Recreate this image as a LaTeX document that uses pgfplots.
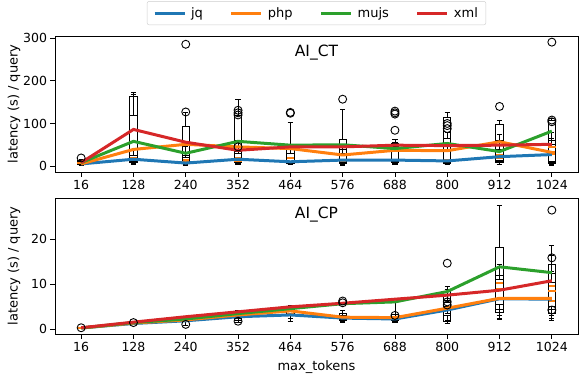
\documentclass[border=0pt]{standalone}
\usepackage{fontspec}
\setmainfont{DejaVu Sans}
\usepackage{pgfplots}
\pgfplotsset{compat=1.18}
\usepgfplotslibrary{statistics}
\definecolor{cjq}{HTML}{1F77B4}
\definecolor{cphp}{HTML}{FF7F0E}
\definecolor{cmujs}{HTML}{2CA02C}
\definecolor{cxml}{HTML}{D62728}
% one box: position, lower whisker, lower quartile, median, upper quartile, upper whisker, outliers
\newcommand{\bx}[7]{\addplot[forget plot, black, line width=0.9pt, mark=o, mark size=4pt,
  boxplot prepared={draw position=#1, lower whisker=#2, lower quartile=#3, median=#4,
  upper quartile=#5, upper whisker=#6}] coordinates {#7};}
\pgfplotsset{
  common/.style={
    scale only axis, width=523pt, height=136pt,
    xmin=-0.5, xmax=9.5,
    xtick={0,1,2,3,4,5,6,7,8,9},
    xticklabels={16,128,240,352,464,576,688,800,912,1024},
    tick align=outside, xtick pos=bottom, ytick pos=left,
    major tick length=4.5pt,
    tick style={black, line width=0.8pt},
    axis line style={black, line width=0.8pt},
    /pgf/number format/assume math mode=true,
    tick label style={font=\fontsize{12.5}{14}\selectfont},
    title style={font=\fontsize{15.5}{18}\selectfont, at={(axis description cs:0.5,1)}, anchor=north, yshift=-11pt},
    every axis y label/.style={at={(axis description cs:0,0.5)}, xshift=-41pt, rotate=90, anchor=center, font=\fontsize{13}{15}\selectfont},
    ylabel={latency (s) / query},
    boxplot/draw direction=y,
    boxplot/box extend=0.14, boxplot/whisker extend=0.1,
    boxplot/every median/.style={draw=cphp, line width=2pt},
  },
  ln/.style={line width=3pt},
}
\begin{document}
\begin{tikzpicture}
\useasboundingbox (0,0) rectangle (581pt,-376pt);
% ---------------- AI_CT ----------------
\begin{axis}[common, at={(55pt,-172pt)}, anchor=south west,
  ymin=-14, ymax=305.4, ytick={0,100,200,300},
  title={AI\_CT},
  legend columns=4,
  legend image code/.code={\draw[#1, line width=3pt] (0pt,0pt) -- (30pt,0pt);},
  legend style={at={(axis description cs:0.5,1)}, anchor=south, yshift=11pt,
    draw=black!20, rounded corners=2pt, font=\fontsize{13}{15}\selectfont,
    inner xsep=6pt, inner ysep=4pt,
    /tikz/every odd column/.append style={column sep=3pt},
    /tikz/every even column/.append style={column sep=25pt}},
]
\bx{0}{2}{4}{6}{10}{14}{(0,19)}
\bx{0}{3}{5}{8}{12}{15}{}
\bx{1}{3}{8}{12}{164}{174}{}
\bx{1}{5}{12}{18}{119}{168}{}
\bx{1}{4}{10}{16}{25}{40}{}
\bx{2}{2}{8}{15}{94}{127}{(2,286)}
\bx{2}{3}{6}{12}{25}{45}{(2,127)}
\bx{2}{2}{5}{10}{20}{30}{}
\bx{3}{5}{10}{15}{118}{157}{}
\bx{3}{5}{8}{18}{35}{60}{(3,120) (3,125) (3,131)}
\bx{3}{4}{8}{12}{30}{40}{(3,45)}
\bx{4}{3}{8}{20}{40}{103}{(4,124)}
\bx{4}{3}{6}{10}{30}{45}{(4,126)}
\bx{5}{3}{10}{25}{62}{133}{(5,157)}
\bx{5}{2}{5}{12}{40}{50}{}
\bx{5}{4}{8}{15}{30}{45}{}
\bx{6}{3}{8}{15}{53}{63}{(6,84) (6,122) (6,125) (6,129)}
\bx{6}{5}{10}{35}{45}{55}{}
\bx{7}{3}{8}{14}{114}{126}{}
\bx{7}{4}{10}{35}{65}{80}{(7,88) (7,95) (7,100)}
\bx{7}{3}{6}{12}{40}{50}{}
\bx{8}{3}{10}{20}{97}{108}{(8,140)}
\bx{8}{4}{12}{50}{60}{75}{}
\bx{8}{3}{8}{25}{40}{55}{}
\bx{9}{2}{8}{28}{108}{112}{(9,291)}
\bx{9}{5}{10}{32}{60}{80}{(9,104) (9,108)}
\bx{9}{3}{6}{45}{50}{65}{}
\addplot[ln, cjq] coordinates {(0,5) (1,16) (2,7) (3,16) (4,10) (5,14) (6,14) (7,12) (8,22) (9,27)};
\addlegendentry{jq}
\addplot[ln, cphp] coordinates {(0,5) (1,39) (2,51) (3,45) (4,41) (5,26) (6,37) (7,36) (8,57) (9,32)};
\addlegendentry{php}
\addplot[ln, cmujs] coordinates {(0,8) (1,58) (2,30) (3,58) (4,49) (5,50) (6,41) (7,53) (8,34) (9,82)};
\addlegendentry{mujs}
\addplot[ln, cxml] coordinates {(0,8) (1,86) (2,56) (3,37) (4,45) (5,45) (6,49) (7,48) (8,49) (9,51)};
\addlegendentry{xml}
\end{axis}
% ---------------- AI_CP ----------------
\begin{axis}[common, at={(55pt,-334pt)}, anchor=south west,
  ymin=-1.04, ymax=29.2, ytick={0,10,20},
  title={AI\_CP},
  xlabel={max\_tokens},
  every axis x label/.style={at={(axis description cs:0.5,0)}, anchor=center, yshift=-33pt, font=\fontsize{13}{15}\selectfont},
]
\bx{0}{0.2}{0.25}{0.3}{0.4}{0.5}{(0,0.35)}
\bx{1}{1.1}{1.2}{1.4}{1.6}{1.7}{(1,1.5)}
\bx{2}{0.9}{1.8}{2.1}{2.5}{2.7}{(2,1.1)}
\bx{3}{1.6}{2.0}{2.8}{3.6}{4.0}{}
\bx{3}{2.0}{2.5}{3.2}{3.8}{4.2}{(3,1.8)}
\bx{4}{1.7}{3.0}{3.5}{4.5}{5.2}{}
\bx{4}{2.5}{3.2}{4.1}{4.8}{5.0}{}
\bx{5}{1.5}{2.0}{2.7}{3.5}{4.2}{(5,6.3) (5,5.9)}
\bx{5}{1.8}{2.2}{2.5}{3.0}{3.5}{}
\bx{6}{1.6}{2.0}{2.6}{3.4}{6.3}{}
\bx{6}{1.8}{2.1}{2.4}{2.9}{3.3}{(6,3.1)}
\bx{7}{1.3}{1.8}{4.3}{6.0}{7.5}{}
\bx{7}{3.5}{5.0}{7.6}{8.5}{9.5}{(7,14.7)}
\bx{7}{2.0}{3.0}{4.7}{6.5}{8.8}{(7,5.4) (7,6.1)}
\bx{8}{2.1}{3.8}{6.8}{18.2}{27.6}{}
\bx{8}{2.5}{4.5}{8.9}{11.0}{14.5}{}
\bx{8}{3.0}{5.5}{10.4}{12.0}{13.9}{}
\bx{9}{2.0}{3.6}{6.2}{14.4}{18.6}{(9,26.5) (9,15.9)}
\bx{9}{2.5}{4.5}{9.7}{12.5}{16.5}{(9,4.3)}
\bx{9}{3.0}{5.0}{8.6}{10.5}{12.8}{}
\addplot[ln, cjq] coordinates {(0,0.3) (1,1.3) (2,1.9) (3,2.8) (4,3.2) (5,2.5) (6,2.3) (7,4.3) (8,6.8) (9,6.7)};
\addplot[ln, cphp] coordinates {(0,0.3) (1,1.4) (2,2.1) (3,3.2) (4,4.1) (5,2.7) (6,2.6) (7,4.7) (8,6.9) (9,6.9)};
\addplot[ln, cmujs] coordinates {(0,0.3) (1,1.5) (2,2.3) (3,3.5) (4,4.6) (5,5.7) (6,6.1) (7,8.4) (8,13.9) (9,12.6)};
\addplot[ln, cxml] coordinates {(0,0.35) (1,1.6) (2,2.8) (3,3.9) (4,5.0) (5,5.8) (6,6.7) (7,7.6) (8,8.7) (9,10.8)};
\end{axis}
\end{tikzpicture}
\end{document}
